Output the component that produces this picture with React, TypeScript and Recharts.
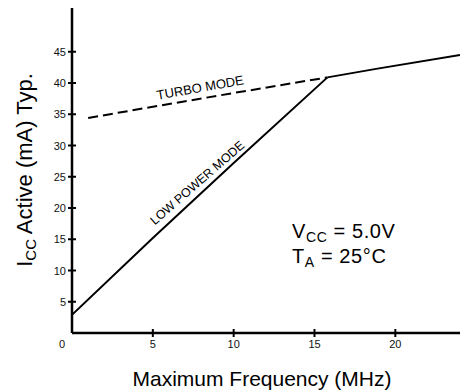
import { LineChart, Line, XAxis, YAxis } from "recharts";

// frequency (MHz) vs typical active Icc (mA)
const xTicks = [0, 5, 10, 15, 20];
const yTicks = [5, 10, 15, 20, 25, 30, 35, 40, 45];

const turboMode = [
  { f: 1, icc: 34.4 },
  { f: 5, icc: 36.2 },
  { f: 10, icc: 38.4 },
  { f: 15.8, icc: 40.9 },
];

const sharedHigh = [
  { f: 15.8, icc: 40.9 },
  { f: 18.9, icc: 42.3 },
  { f: 24, icc: 44.5 },
];

const lowPowerMode = [
  { f: 0, icc: 2.9 },
  { f: 5, icc: 15.2 },
  { f: 10, icc: 27.2 },
  { f: 15.8, icc: 40.9 },
];

const FONT = "'Liberation Sans', Arial, Helvetica, sans-serif";

function XTick(props: any) {
  const { x, y, payload } = props;
  const v = payload.value;
  if (v === 0) {
    return (
      <text x={x - 10} y={y + 15} textAnchor="middle" fontSize={11} fontFamily={FONT} fill="#111">
        0
      </text>
    );
  }
  return (
    <g>
      <line x1={x} x2={x} y1={y - 4} y2={y + 4} stroke="#000" strokeWidth={2} />
      <text x={x} y={y + 15} textAnchor="middle" fontSize={11} fontFamily={FONT} fill="#111">
        {v}
      </text>
    </g>
  );
}

function YTick(props: any) {
  const { x, y, payload } = props;
  return (
    <g>
      <line x1={x - 4} x2={x + 4} y1={y} y2={y} stroke="#000" strokeWidth={2} />
      <text x={x - 6} y={y + 4} textAnchor="end" fontSize={11} fontFamily={FONT} fill="#111">
        {payload.value}
      </text>
    </g>
  );
}

export default function App() {
  return (
    <div
      style={{
        position: "absolute",
        left: 0,
        top: 0,
        width: 460,
        height: 392,
        overflow: "hidden",
        background: "#fff",
        fontFamily: FONT,
      }}
    >
      <LineChart width={460} height={392} margin={{ top: 8, right: 0, left: 0, bottom: 0 }}>
        <XAxis
          type="number"
          dataKey="f"
          domain={[0, 24]}
          ticks={xTicks}
          height={59}
          tickSize={0}
          tickMargin={0}
          tickLine={false}
          axisLine={{ stroke: "#000", strokeWidth: 2.5 }}
          tick={<XTick />}
          interval={0}
          allowDataOverflow
        />
        <YAxis
          type="number"
          dataKey="icc"
          domain={[0, 52]}
          ticks={yTicks}
          width={72}
          tickSize={0}
          tickMargin={0}
          tickLine={false}
          axisLine={{ stroke: "#000", strokeWidth: 2.5 }}
          tick={<YTick />}
          interval={0}
          allowDataOverflow
        />
        <Line
          data={turboMode}
          dataKey="icc"
          type="linear"
          stroke="#000"
          strokeWidth={2}
          strokeDasharray="10 5"
          dot={false}
          isAnimationActive={false}
        />
        <Line
          data={sharedHigh}
          dataKey="icc"
          type="linear"
          stroke="#000"
          strokeWidth={2}
          dot={false}
          isAnimationActive={false}
        />
        <Line
          data={lowPowerMode}
          dataKey="icc"
          type="linear"
          stroke="#000"
          strokeWidth={2}
          dot={false}
          isAnimationActive={false}
        />
      </LineChart>
      <svg
        width={460}
        height={392}
        style={{ position: "absolute", left: 0, top: 0, pointerEvents: "none" }}
        fontFamily={FONT}
        fill="#000"
      >
        <text x={32} y={170} transform="rotate(-90 32 170)" textAnchor="middle" fontSize={22}>
          I<tspan fontSize={15} dy={4}>CC</tspan>
          <tspan dy={-4}> Active (mA) Typ.</tspan>
        </text>
        <text x={262} y={386} textAnchor="middle" fontSize={21}>
          Maximum Frequency (MHz)
        </text>
        <text x={201} y={92} transform="rotate(-10 201 92)" textAnchor="middle" fontSize={13}>
          TURBO MODE
        </text>
        <text x={200} y={186} transform="rotate(-41 200 186)" textAnchor="middle" fontSize={12.5}>
          LOW POWER MODE
        </text>
        <text x={292} y={238} fontSize={20} letterSpacing={0.6}>
          V<tspan fontSize={14} dy={4}>CC</tspan>
          <tspan dy={-4}> = 5.0V</tspan>
        </text>
        <text x={292} y={263} fontSize={20} letterSpacing={0.6}>
          T<tspan fontSize={14} dy={4}>A</tspan>
          <tspan dy={-4}> = 25°C</tspan>
        </text>
      </svg>
    </div>
  );
}
